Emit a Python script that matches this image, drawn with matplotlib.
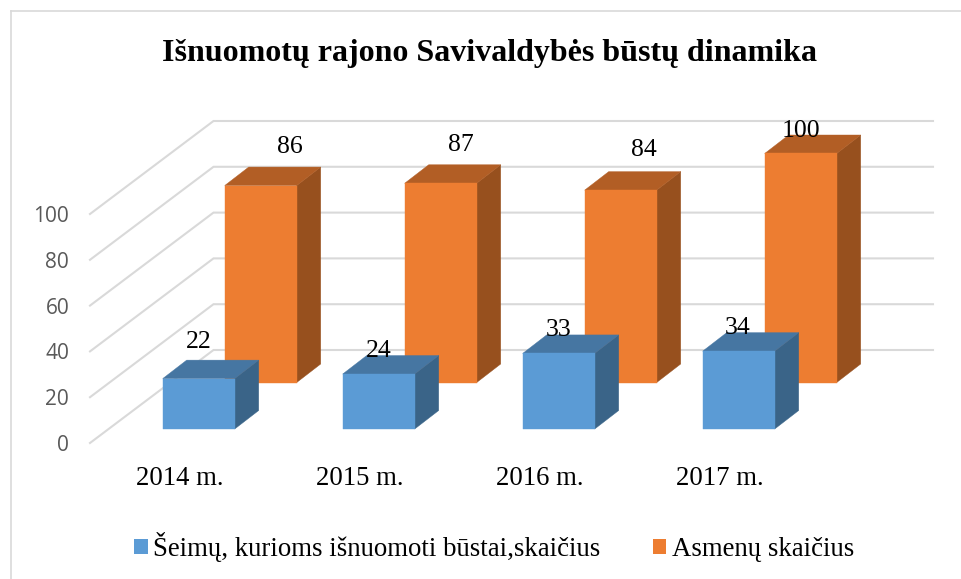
import matplotlib
matplotlib.use("Agg")
import matplotlib.pyplot as plt
from matplotlib.patches import Polygon, Patch
from matplotlib.lines import Line2D

title = "Išnuomotų rajono Savivaldybės būstų dinamika"
categories = ["2014 m.", "2015 m.", "2016 m.", "2017 m."]
families = [22, 24, 33, 34]
persons = [86, 87, 84, 100]
yticks = [0, 20, 40, 60, 80, 100]
series_names = ["Šeimų, kurioms išnuomoti būstai,skaičius", "Asmenų skaičius"]

W, H = 962, 579
SERIF = "Liberation Serif"
GRID = "#D9D9D9"
fig = plt.figure(figsize=(W / 100, H / 100), dpi=100)
ax = fig.add_axes([90 / W, (H - 443) / H, (933 - 90) / W, 322 / H])
ax.set_xlim(-0.5, 753 / 180)
ax.set_ylim(0, 322 / 2.29)
ax.patch.set_alpha(0)
for s in ax.spines.values():
    s.set_visible(False)

PXX, PXY = 1 / 180, 1 / 2.29
back_dx, back_dy = 123.5 * PXX, 93 * PXY
depth_dx, depth_dy = 24 * PXX, 18.5 * PXY
bar_w = 72 * PXX

for t in yticks:
    ax.plot([-0.5, -0.5 + back_dx, 753 / 180], [t, t + back_dy, t + back_dy],
            color=GRID, lw=1.5, zorder=1, clip_on=False, solid_joinstyle="miter")


def bar3d(x0, base, value, front, top, side, z):
    x1 = x0 + bar_w
    y1 = base + value
    ax.add_patch(Polygon([(x0, base), (x1, base), (x1, y1), (x0, y1)], fc=front, ec=front, lw=0.3, zorder=z + 0.2))
    ax.add_patch(Polygon([(x0, y1), (x1, y1), (x1 + depth_dx, y1 + depth_dy), (x0 + depth_dx, y1 + depth_dy)],
                         fc=top, ec=top, lw=0.3, zorder=z + 0.1))
    ax.add_patch(Polygon([(x1, base), (x1 + depth_dx, base + depth_dy), (x1 + depth_dx, y1 + depth_dy), (x1, y1)],
                         fc=side, ec=side, lw=0.3, zorder=z))


blue_off = [(36, 37), (36, 23), (36, 23), (35, 23)]
orange_off = [(65, 39), (56, 38), (59, 40), (36, 22)]
for i in range(len(categories)):
    xo = i + 44.7 * PXX
    xb = i - 17.3 * PXX
    bo, bb = 60.5 * PXY, 14 * PXY
    bar3d(xo, bo, persons[i], "#ED7D31", "#B25E25", "#97501E", 3)
    bar3d(xb, bb, families[i], "#5B9BD5", "#4676A2", "#3A6488", 4)
    ax.annotate(str(persons[i]), (xo, bo + persons[i]), xytext=orange_off[i], textcoords="offset pixels",
                ha="center", va="center", family=SERIF, fontsize=18.5, color="black", zorder=8, annotation_clip=False)
    ax.annotate(str(families[i]), (xb, bb + families[i]), xytext=blue_off[i], textcoords="offset pixels",
                ha="center", va="center", family=SERIF, fontsize=18.5, color="black", zorder=8, annotation_clip=False)

ax.set_xticks(range(len(categories)))
ax.set_xticklabels(categories, family=SERIF, fontsize=19.3, color="black")
ax.set_yticks(yticks)
ax.set_yticklabels([str(t) for t in yticks], family="Open Sans", fontsize=15, color="#595959")
ax.tick_params(axis="x", length=0, pad=16.5)
ax.tick_params(axis="y", length=0, pad=15)

fig.text(490 / W, 1 - 53 / H, title, ha="center", va="center", family=SERIF, weight="bold", fontsize=23, color="black")

handles = [Patch(fc="#5B9BD5", ec="none"), Patch(fc="#ED7D31", ec="none")]
fig.legend(handles, series_names, loc="center", bbox_to_anchor=(494 / W, 1 - 547 / H), ncol=2, frameon=False,
           prop={"family": SERIF, "size": 19.3}, handlelength=0.52, handleheight=0.52, handletextpad=0.19,
           columnspacing=1.94, borderpad=0)

for xs, ys in [([11, 11], [579, 11]), ([11, 962], [11, 11])]:
    fig.add_artist(Line2D([x / W for x in xs], [1 - y / H for y in ys], color=GRID, lw=1.2))

fig.savefig("out.png", dpi=100, facecolor="white")
